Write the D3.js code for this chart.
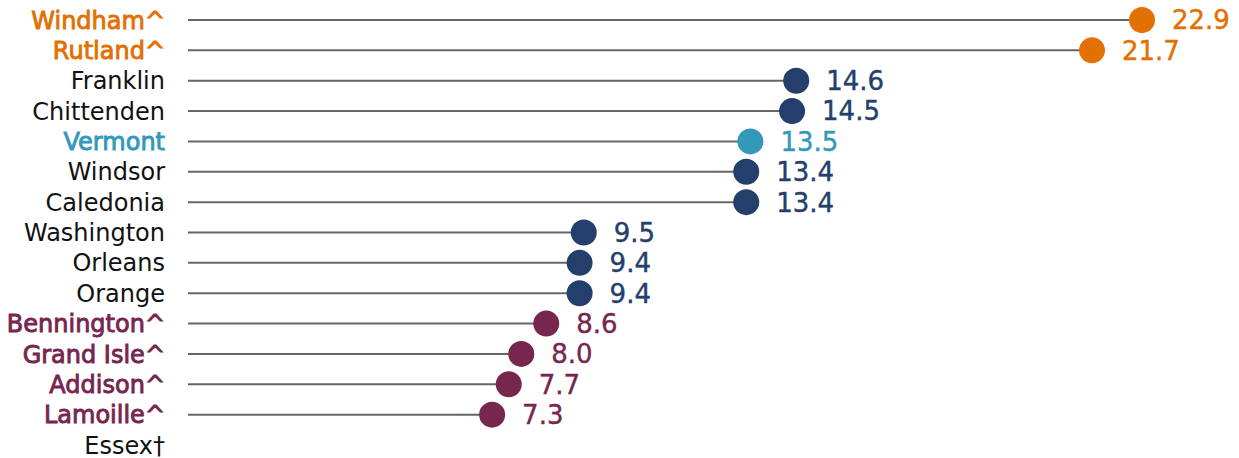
<!DOCTYPE html>
<html>
<head>
<meta charset="utf-8">
<script src="https://cdn.jsdelivr.net/npm/d3@7"></script>
<style>
  body { margin: 0; background: #fff; }
  text { font-family: "DejaVu Sans", "Liberation Sans", sans-serif; }
</style>
</head>
<body>
<div id="chart"></div>
<script>
const counties = ['Windham^', 'Rutland^', 'Franklin', 'Chittenden', 'Vermont', 'Windsor', 'Caledonia',
  'Washington', 'Orleans', 'Orange', 'Bennington^', 'Grand Isle^', 'Addison^', 'Lamoille^', 'Essex\u2020'];
const rates = [22.9, 21.7, 14.6, 14.5, 13.5, 13.4, 13.4, 9.5, 9.4, 9.4, 8.6, 8.0, 7.7, 7.3, null];
const groups = ['high', 'high', 'mid', 'mid', 'state', 'mid', 'mid', 'mid', 'mid', 'mid',
  'low', 'low', 'low', 'low', 'none'];

const dotColor = {high: '#e27003', mid: '#243f6b', state: '#3398b9', low: '#76264f', none: '#111'};
const labelColor = {high: '#e27003', mid: '#111', state: '#3398b9', low: '#76264f', none: '#111'};

const width = 1239, height = 458;
const data = counties.map((c, i) => ({name: c, value: rates[i], group: groups[i]}));

const svg = d3.select('#chart').append('svg')
  .attr('width', width)
  .attr('height', height);

const x = d3.scaleLinear().domain([0, 22.9]).range([188, 1142]);
const y = d3.scalePoint().domain(counties).range([20, 445]);

const rows = svg.selectAll('g.row')
  .data(data)
  .enter()
  .append('g')
  .attr('class', 'row')
  .attr('transform', d => `translate(0,${y(d.name)})`);

// county names (highlighted ones get a thin stroke to look semibold)
rows.append('text')
  .attr('x', 165)
  .attr('dy', '0.36em')
  .attr('text-anchor', 'end')
  .attr('font-size', 24)
  .attr('fill', d => labelColor[d.group])
  .attr('stroke', d => labelColor[d.group])
  .attr('stroke-width', d => (d.group === 'mid' || d.group === 'none') ? 0 : 0.9)
  .text(d => d.name);

const withVal = rows.filter(d => d.value != null);

withVal.append('line')
  .attr('x1', x(0))
  .attr('x2', d => x(d.value))
  .attr('stroke', '#666')
  .attr('stroke-width', 2);

withVal.append('circle')
  .attr('cx', d => x(d.value))
  .attr('r', 13)
  .attr('fill', d => dotColor[d.group]);

withVal.append('text')
  .attr('x', d => x(d.value) + 30)
  .attr('dy', '0.36em')
  .attr('font-size', 26)
  .attr('fill', d => dotColor[d.group])
  .attr('stroke', d => dotColor[d.group])
  .attr('stroke-width', 0.4)
  .text(d => d.value.toFixed(1));
</script>
</body>
</html>
